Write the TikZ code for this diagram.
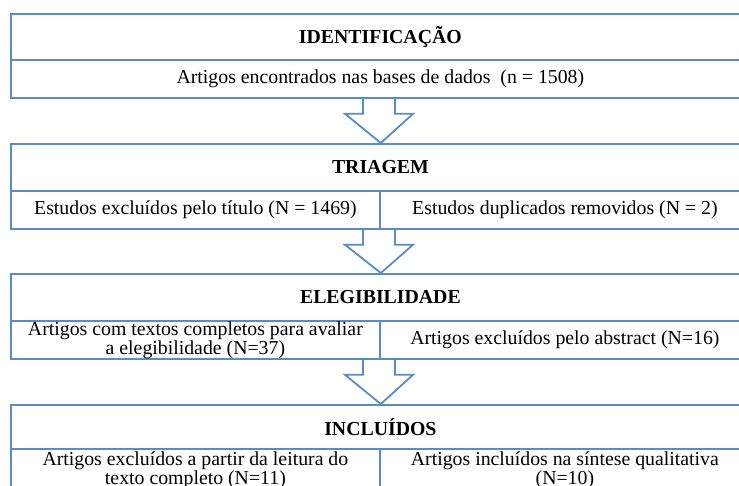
\documentclass[tikz,border=0pt]{standalone}
\usepackage{fontspec}
\setmainfont{Liberation Serif}
\definecolor{lineblue}{RGB}{88,140,200}
\begin{document}
\begin{tikzpicture}[x=1pt,y=-1pt,
  cell/.style={draw=lineblue,line width=1.8pt,rectangle,inner sep=0pt,anchor=north west,font=\fontsize{19.8}{19}\selectfont},
  hdr/.style={cell,font=\fontsize{19.8}{19}\selectfont\bfseries},
  bigarrow/.style={draw=lineblue,line width=1.8pt,line join=miter}]
\useasboundingbox (0,0) rectangle (739,485);
\clip (0,0) rectangle (739,485);
\fill[white] (0,0) rectangle (739,485);
\coordinate (sl) at (363,0);
\coordinate (sr) at (395,0);
% Box 1
\node[hdr,minimum width=739pt,minimum height=46pt] (h1) at (10,13) {IDENTIFICAÇÃO};
\node[cell,minimum width=739pt,minimum height=38pt] (b1) at (10,59) {Artigos encontrados nas bases de dados~~(n = 1508)};
% Box 2
\node[hdr,minimum width=739pt,minimum height=47pt] (h2) at (10,143) {TRIAGEM};
\node[cell,minimum width=369pt,minimum height=38pt] (l2) at (10,190) {Estudos excluídos pelo título (N = 1469)};
\node[cell,minimum width=370pt,minimum height=38pt] (r2) at (379,190) {Estudos duplicados removidos (N = 2)};
% Box 3
\node[hdr,minimum width=739pt,minimum height=47pt] (h3) at (10,273) {ELEGIBILIDADE};
\node[cell,minimum width=369pt,minimum height=38pt,align=center] (l3) at (10,320) {Artigos com textos completos para avaliar\\a elegibilidade (N=37)};
\node[cell,minimum width=370pt,minimum height=38pt] (r3) at (379,320) {Artigos excluídos pelo abstract (N=16)};
% Box 4
\node[hdr,minimum width=739pt,minimum height=44pt] (h4) at (10,404) {INCLUÍDOS};
\node[cell,minimum width=369pt,minimum height=42pt,align=center] (l4) at (10,448) {Artigos excluídos a partir da leitura do\\texto completo (N=11)};
\node[cell,minimum width=370pt,minimum height=42pt,align=center] (r4) at (379,448) {Artigos incluídos na síntese qualitativa\\(N=10)};
% Arrows
\foreach \a/\b in {b1/h2, l2/h3, l3/h4}{
  \coordinate (tip) at (l2.north east |- \b.north);
  \draw[bigarrow] (sl |- \a.south) -- ++(0,15) -- ++(-18,0) -- (tip);
  \draw[bigarrow] (sr |- \a.south) -- ++(0,15) -- ++(18,0) -- (tip);
}
\end{tikzpicture}
\end{document}
